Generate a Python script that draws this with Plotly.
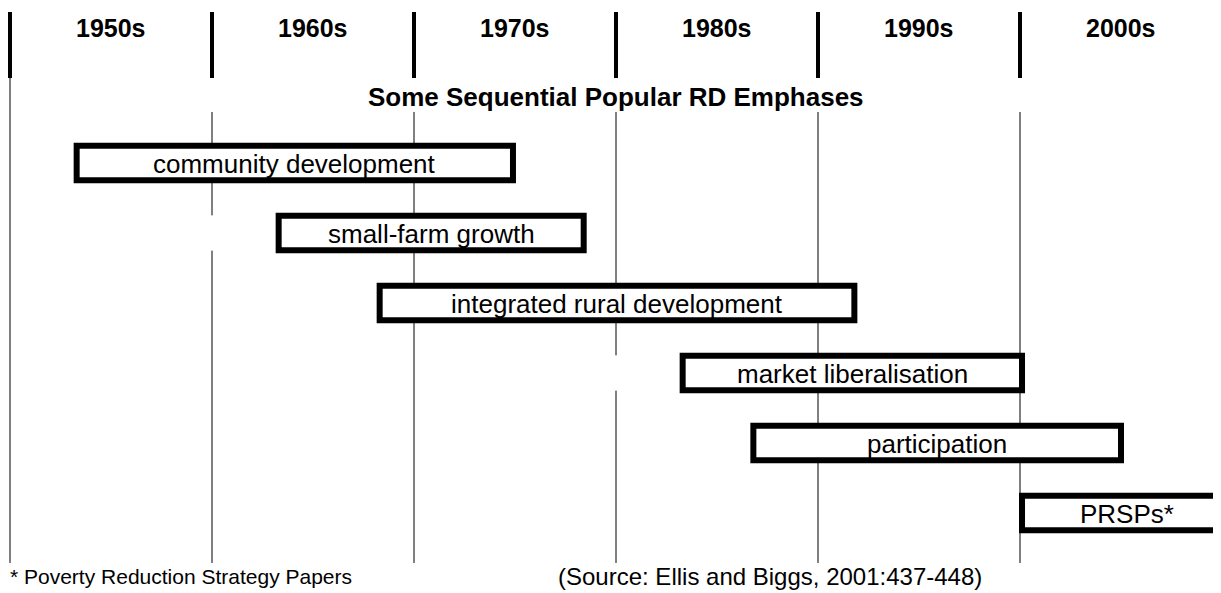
import plotly.graph_objects as go

# ---------------- data ----------------
decades = [1950, 1960, 1970, 1980, 1990, 2000]
decade_labels = ["1950s", "1960s", "1970s", "1980s", "1990s", "2000s"]
boundary_years = [1950, 1960, 1970, 1980, 1990, 2000, 2010]

emphases = ["community development", "small-farm growth", "integrated rural development",
            "market liberalisation", "participation", "PRSPs*"]
start_year = [1953.3, 1963.3, 1968.3, 1983.3, 1986.8, 2000.1]
end_year = [1974.9, 1978.4, 1991.8, 2000.1, 2005.0, 2010.5]
rows = [0, 1, 2, 3, 4, 5]

# rows in which a decade line is interrupted in the original figure
line_gaps = {1960: [1], 1980: [3]}

title_text = "Some Sequential Popular RD Emphases"
footnote_text = "* Poverty Reduction Strategy Papers"
source_text = "(Source: Ellis and Biggs, 2001:437-448)"

# ---------------- layout constants ----------------
FONT = "Liberation Sans, Arial, sans-serif"
HEADER_TOP, HEADER_BOT = -2.157, -1.214
LABEL_Y = -1.93
TITLE_Y = -0.943
LINE_TOP = -0.729
LINE_BOT = 5.714
FOOT_Y = 5.914
HALF = 0.245

fig = go.Figure()
# invisible trace to set up the axes
fig.add_trace(go.Scatter(x=[1950, 2010], y=[0, 5], mode="markers",
                         marker=dict(opacity=0), hoverinfo="skip", showlegend=False))

shapes = []
# thick header lines
for yr in boundary_years:
    col = "#000000" if yr < 2010 else "#999999"
    shapes.append(dict(type="line", xref="x", yref="y", x0=yr, x1=yr,
                       y0=HEADER_TOP, y1=HEADER_BOT, line=dict(color=col, width=4)))
# thin decade lines with interruptions
for yr in decades:
    top = HEADER_BOT if yr == decades[0] else LINE_TOP
    segs = []
    cur = top
    for r in sorted(line_gaps.get(yr, [])):
        segs.append((cur, r - HALF - 0.007))
        cur = r + HALF + 0.007
    segs.append((cur, LINE_BOT))
    for a, b in segs:
        shapes.append(dict(type="line", xref="x", yref="y", x0=yr, x1=yr,
                           y0=a, y1=b, line=dict(color="#000000", width=1)))
# emphasis boxes
for s, e, r in zip(start_year, end_year, rows):
    shapes.append(dict(type="rect", xref="x", yref="y", x0=s, x1=e,
                       y0=r - HALF, y1=r + HALF, fillcolor="white",
                       line=dict(color="#000000", width=6)))

annotations = []
for d, lab in zip(decades, decade_labels):
    annotations.append(dict(x=d + 5, y=LABEL_Y, xref="x", yref="y", text="<b>" + lab + "</b>",
                            showarrow=False, font=dict(family=FONT, size=25, color="#000000"),
                            xanchor="center", yanchor="middle"))
for name, s, e, r in zip(emphases, start_year, end_year, rows):
    annotations.append(dict(x=(s + e) / 2, y=r + 0.02, xref="x", yref="y", text=name,
                            showarrow=False, font=dict(family=FONT, size=26, color="#000000"),
                            xanchor="center", yanchor="middle"))
annotations.append(dict(x=1980.0, y=TITLE_Y, xref="x", yref="y", text="<b>" + title_text + "</b>",
                        showarrow=False, font=dict(family=FONT, size=26, color="#000000"),
                        xanchor="center", yanchor="middle"))
annotations.append(dict(x=0.0, y=FOOT_Y, xref="paper", yref="y", text=footnote_text,
                        showarrow=False, font=dict(family=FONT, size=21, color="#000000"),
                        xanchor="left", yanchor="middle"))
annotations.append(dict(x=0.452, y=FOOT_Y, xref="paper", yref="y", text=source_text,
                        showarrow=False, font=dict(family=FONT, size=24, color="#000000"),
                        xanchor="left", yanchor="middle"))

# the page body has an 8px margin, so the figure is sized to fit the window
W, H = 1213, 585
PX_PER_YEAR = 20.2
x_left = 1950 - 2 / PX_PER_YEAR
x_right = x_left + W / PX_PER_YEAR
y_top = -155 / 70
y_bot = (H - 155) / 70

fig.update_layout(
    width=W, height=H,
    margin=dict(l=0, r=0, t=0, b=0),
    paper_bgcolor="white", plot_bgcolor="white",
    xaxis=dict(range=[x_left, x_right], visible=False, showgrid=False, zeroline=False),
    yaxis=dict(range=[y_bot, y_top], visible=False, showgrid=False, zeroline=False),
    shapes=shapes, annotations=annotations, showlegend=False,
)

fig.write_html("out.html", config={"displayModeBar": False})
